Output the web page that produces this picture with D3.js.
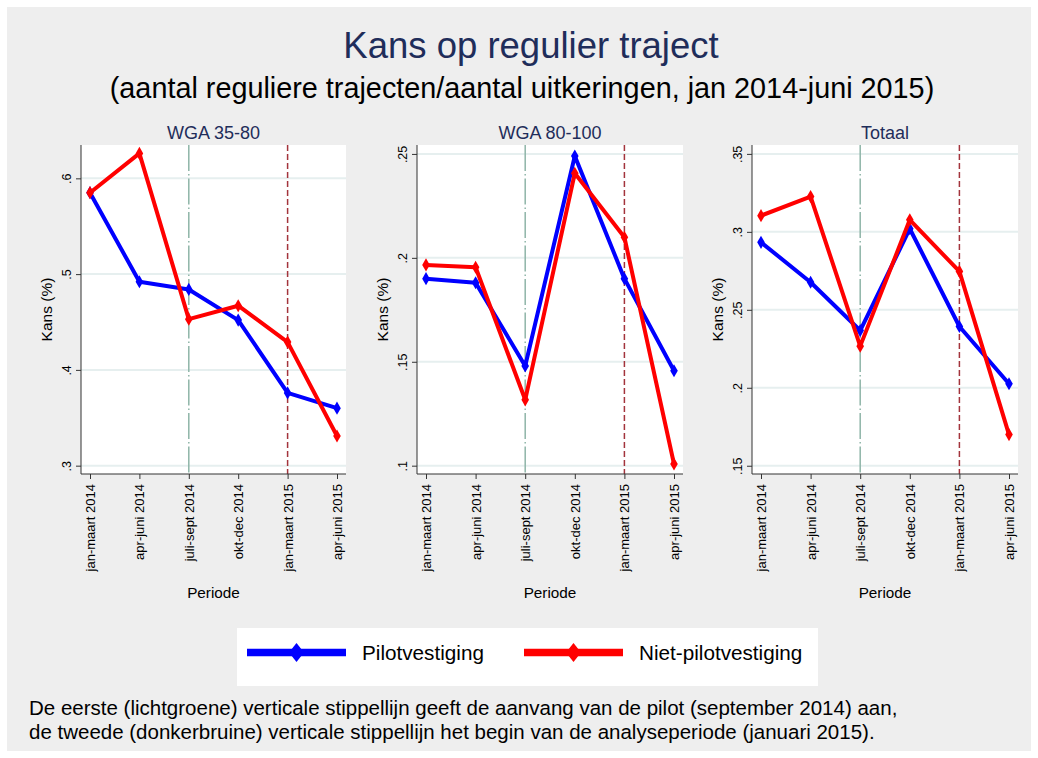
<!DOCTYPE html>
<html>
<head>
<meta charset="utf-8">
<script src="https://cdn.jsdelivr.net/npm/d3@7"></script>
<style>
  body { margin: 0; background: #fff; }
  svg { font-family: "Liberation Sans", Arial, sans-serif; }
</style>
</head>
<body>
<div id="chart"></div>
<script>
const WIDTH = 1038;
const HEIGHT = 758;

// data
const periods = ["jan-maart 2014", "apr-juni 2014", "juli-sept 2014", "okt-dec 2014", "jan-maart 2015", "apr-juni 2015"];
const panelTitles = ["WGA 35-80", "WGA 80-100", "Totaal"];
const pilot3580 = [0.585, 0.492, 0.484, 0.452, 0.376, 0.360];
const niet3580 = [0.585, 0.626, 0.453, 0.467, 0.429, 0.331];
const pilot80100 = [0.190, 0.188, 0.148, 0.249, 0.190, 0.1457];
const niet80100 = [0.1966, 0.1955, 0.1317, 0.2407, 0.2099, 0.1008];
const pilotTot = [0.2933, 0.2677, 0.2367, 0.302, 0.2393, 0.2026];
const nietTot = [0.3104, 0.3226, 0.2267, 0.3077, 0.2746, 0.170];
const ticks3580 = [0.3, 0.4, 0.5, 0.6];
const ticks80100 = [0.1, 0.15, 0.2, 0.25];
const ticksTot = [0.15, 0.2, 0.25, 0.3, 0.35];
const tickLabels3580 = [".3", ".4", ".5", ".6"];
const tickLabels80100 = [".1", ".15", ".2", ".25"];
const tickLabelsTot = [".15", ".2", ".25", ".3", ".35"];
const seriesNames = ["Pilotvestiging", "Niet-pilotvestiging"];
const seriesColors = ["#0000ff", "#ff0000"];
const pilotStartIdx = 2;   // juli-sept 2014
const analysisStartIdx = 4; // jan-maart 2015

const panels = [
  {title: panelTitles[0], series: [pilot3580, niet3580], ticks: ticks3580, labels: tickLabels3580,
   x0: 81, x1: 346, domain: [0.2913, 0.6348]},
  {title: panelTitles[1], series: [pilot80100, niet80100], ticks: ticks80100, labels: tickLabels80100,
   x0: 417, x1: 683, domain: [0.0960, 0.2543]},
  {title: panelTitles[2], series: [pilotTot, nietTot], ticks: ticksTot, labels: tickLabelsTot,
   x0: 752, x1: 1018, domain: [0.1447, 0.3557]}
];
const PLOT_TOP = 145;
const PLOT_BOTTOM = 474;

const svg = d3.select("#chart")
  .append("svg")
    .attr("width", WIDTH)
    .attr("height", HEIGHT);

// backgrounds
svg.append("rect").attr("width", WIDTH).attr("height", HEIGHT).attr("fill", "#ffffff");
svg.append("rect").attr("x", 7).attr("y", 7).attr("width", WIDTH - 14).attr("height", HEIGHT - 14)
   .attr("fill", "#eeeeee");

// titles
svg.append("text").attr("x", 531).attr("y", 58).attr("text-anchor", "middle")
   .attr("font-size", 36.5).attr("fill", "#1f2d5a").text("Kans op regulier traject");
svg.append("text").attr("x", 522).attr("y", 98).attr("text-anchor", "middle")
   .attr("font-size", 28.8).attr("fill", "#000").text("(aantal reguliere trajecten/aantal uitkeringen, jan 2014-juni 2015)");

panels.forEach((p) => {
  const g = svg.append("g");
  const pad = 9;
  const x = d3.scalePoint().domain(periods).range([p.x0 + pad, p.x1 - pad]);
  const y = d3.scaleLinear().domain(p.domain).range([PLOT_BOTTOM, PLOT_TOP]);

  // plot area
  g.append("rect").attr("x", p.x0).attr("y", PLOT_TOP)
    .attr("width", p.x1 - p.x0).attr("height", PLOT_BOTTOM - PLOT_TOP).attr("fill", "#fff");

  // grid
  g.selectAll(".grid").data(p.ticks).enter().append("line")
    .attr("x1", p.x0).attr("x2", p.x1)
    .attr("y1", (d) => y(d)).attr("y2", (d) => y(d))
    .attr("stroke", "#e6efef").attr("stroke-width", 2);

  // vertical reference lines
  g.append("line")
    .attr("x1", x(periods[pilotStartIdx])).attr("x2", x(periods[pilotStartIdx]))
    .attr("y1", PLOT_TOP).attr("y2", PLOT_BOTTOM)
    .attr("stroke", "#8fb5a8").attr("stroke-width", 1.5)
    .attr("stroke-dasharray", "26,3,1.5,3");
  g.append("line")
    .attr("x1", x(periods[analysisStartIdx])).attr("x2", x(periods[analysisStartIdx]))
    .attr("y1", PLOT_TOP).attr("y2", PLOT_BOTTOM)
    .attr("stroke", "#a3343c").attr("stroke-width", 1.5)
    .attr("stroke-dasharray", "6,3");

  // lines and markers
  const line = d3.line().x((d, i) => x(periods[i])).y((d) => y(d));
  p.series.forEach((s, si) => {
    g.append("path").datum(s).attr("d", line)
      .attr("fill", "none").attr("stroke", seriesColors[si]).attr("stroke-width", 4)
      .attr("stroke-linejoin", "round");
    g.selectAll(".m" + si).data(s).enter().append("path")
      .attr("d", d3.symbol().type(d3.symbolDiamond).size(50))
      .attr("transform", (d, i) => "translate(" + x(periods[i]) + "," + y(d) + ")")
      .attr("fill", seriesColors[si]);
  });

  // y axis
  const yAxis = g.append("g").attr("transform", "translate(" + p.x0 + ",0)")
    .call(d3.axisLeft(y).tickValues(p.ticks).tickFormat((d, i) => p.labels[i]).tickSize(5));
  yAxis.select(".domain").attr("d", "M0," + PLOT_TOP + "V" + PLOT_BOTTOM).attr("stroke", "#333");
  yAxis.selectAll(".tick line").attr("stroke", "#333");
  // rotated tick labels
  yAxis.selectAll(".tick text")
    .attr("font-size", 12.5).attr("fill", "#000")
    .attr("text-anchor", "middle")
    .attr("transform", "rotate(-90)")
    .attr("x", 0).attr("y", -10).attr("dy", 0);

  // x axis
  const xAxis = g.append("g").attr("transform", "translate(0," + PLOT_BOTTOM + ")")
    .call(d3.axisBottom(x).tickSize(5));
  xAxis.select(".domain").attr("d", "M" + p.x0 + ",0H" + p.x1).attr("stroke", "#333");
  xAxis.selectAll(".tick line").attr("stroke", "#333");
  xAxis.selectAll(".tick text")
    .attr("font-size", 13).attr("fill", "#000")
    .attr("transform", "rotate(-90)")
    .attr("text-anchor", "end")
    .attr("x", -10).attr("y", 0).attr("dy", "0.35em");

  // panel title
  g.append("text").attr("x", (p.x0 + p.x1) / 2).attr("y", 139).attr("text-anchor", "middle")
    .attr("font-size", 18).attr("fill", "#1f2d5a").text(p.title);
  // axis titles
  g.append("text").attr("transform", "translate(" + (p.x0 - 29) + "," + ((PLOT_TOP + PLOT_BOTTOM) / 2) + ") rotate(-90)")
    .attr("text-anchor", "middle").attr("font-size", 15.5).attr("fill", "#000").text("Kans (%)");
  g.append("text").attr("x", (p.x0 + p.x1) / 2).attr("y", 598).attr("text-anchor", "middle")
    .attr("font-size", 15.3).attr("fill", "#000").text("Periode");
});

// legend
const legend = svg.append("g");
legend.append("rect").attr("x", 237).attr("y", 628).attr("width", 581).attr("height", 58).attr("fill", "#fff");
const legendX = [247, 524];
seriesNames.forEach((name, i) => {
  const lx = legendX[i];
  legend.append("line").attr("x1", lx).attr("x2", lx + 99)
    .attr("y1", 652.5).attr("y2", 652.5).attr("stroke", seriesColors[i]).attr("stroke-width", 7.5);
  legend.append("path").attr("d", "M0,-9.5L7.5,0L0,9.5L-7.5,0Z")
    .attr("transform", "translate(" + (lx + 49.5) + ",652.5)").attr("fill", seriesColors[i]);
  legend.append("text").attr("x", lx + 115).attr("y", 660)
    .attr("font-size", 20.7).attr("fill", "#000").text(name);
});

// footnote
const notes = [
  "De eerste (lichtgroene) verticale stippellijn geeft de aanvang van de pilot (september 2014) aan,",
  "de tweede (donkerbruine) verticale stippellijn het begin van de analyseperiode (januari 2015)."
];
svg.selectAll(".note").data(notes).enter().append("text")
  .attr("class", "note")
  .attr("x", 29).attr("y", (d, i) => 715 + i * 23.5)
  .attr("font-size", 20.5).attr("fill", "#000").text((d) => d);
</script>
</body>
</html>
